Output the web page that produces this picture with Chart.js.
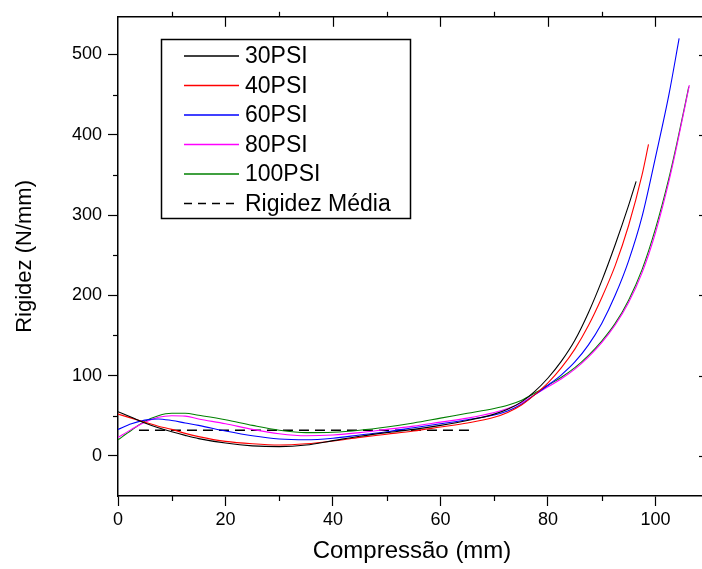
<!DOCTYPE html>
<html>
<head>
<meta charset="utf-8">
<script src="https://cdn.jsdelivr.net/npm/chart.js@4.4.0/dist/chart.umd.min.js"></script>
<style>
  html, body { margin: 0; padding: 0; background: #fff; overflow: hidden; }
  #wrap { width: 702px; height: 569px; overflow: hidden; }
</style>
</head>
<body>
<div id="wrap"><canvas id="chart" width="712" height="569"></canvas></div>
<script>
const FONT = "'Liberation Sans', Arial, sans-serif";

// Compressão (mm) / Rigidez (N/mm)
const x30 = [0, 2.5, 5, 7.5, 10, 12.5, 15, 20, 25, 30, 35, 40, 45, 50, 55, 60, 65, 70, 72.5, 75, 77.5, 80, 82.5, 85, 87.5, 90, 92.5, 95, 96.4];
const y30 = [55, 48, 41, 35, 30, 25.5, 21.5, 16, 12.5, 11.5, 13.5, 19, 24.5, 29, 33, 38, 44, 52, 58, 67, 80, 97, 118, 144, 178, 218, 263, 312, 342];

const x40 = [0, 2.5, 5, 7.5, 10, 12.5, 15, 20, 25, 30, 35, 40, 45, 50, 55, 60, 65, 70, 72.5, 75, 77.5, 80, 82.5, 85, 87.5, 90, 92.5, 95, 97.5, 98.7];
const y40 = [52, 47, 42, 37, 33, 28, 24, 18, 15, 13.5, 15, 18.5, 23, 27, 31, 36, 41, 48, 54, 63, 76, 91, 110, 133, 162, 197, 237, 287, 350, 388];

const x60 = [0, 2.5, 5, 7.5, 10, 12.5, 15, 20, 25, 30, 35, 40, 45, 50, 55, 60, 65, 70, 72.5, 75, 77.5, 80, 82.5, 85, 87.5, 90, 92.5, 95, 97.5, 100, 102.5, 104.4];
const y60 = [33, 40, 44.5, 46, 44, 41, 38, 31, 25, 21, 20, 22, 26, 30, 35, 40, 45, 51, 56, 64, 76, 88, 101, 117, 138, 165, 200, 243, 298, 372, 450, 520];

const x80 = [0, 2.5, 5, 7.5, 10, 12.5, 15, 20, 25, 30, 35, 40, 45, 50, 55, 60, 65, 70, 72.5, 75, 77.5, 80, 82.5, 85, 87.5, 90, 92.5, 95, 97.5, 100, 102.5, 104, 106.3];
const y80 = [23, 33, 42, 48, 50, 49.5, 46, 40, 33, 27.5, 25, 26, 29, 33, 37, 42, 47, 54, 59, 66, 76, 86, 96, 108, 123, 141, 163, 191, 228, 278, 342, 387, 462];

const x100 = [0, 2.5, 5, 7.5, 10, 12.5, 15, 20, 25, 30, 35, 40, 45, 50, 55, 60, 65, 70, 72.5, 75, 77.5, 80, 82.5, 85, 87.5, 90, 92.5, 95, 97.5, 100, 102.5, 104, 106.2];
const y100 = [20, 32, 43, 50, 53, 53, 50.5, 45, 38, 32, 29, 29.5, 32, 36, 41, 47, 53, 59, 63, 69, 78, 88, 98, 110, 125, 143, 165, 194, 232, 283, 346, 390, 460];

const xMedia = [3.9, 66.4];
const yMedia = [32, 32];

const labels = ["30PSI", "40PSI", "60PSI", "80PSI", "100PSI", "Rigidez Média"];
const colors = ["#000000", "#ff0000", "#0000ff", "#ff00ff", "#008000", "#000000"];

// axes
const xMin = 0, xMax = 109.4;
const yMin = -50, yMax = 547;
const xTicks = [0, 20, 40, 60, 80, 100];
const yTicks = [0, 100, 200, 300, 400, 500];

const toPoints = (xs, ys) => xs.map((v, i) => ({ x: v, y: ys[i] }));
const series = [[x30, y30], [x40, y40], [x60, y60], [x80, y80], [x100, y100], [xMedia, yMedia]];

const datasets = series.map((s, i) => ({
  label: labels[i],
  data: toPoints(s[0], s[1]),
  borderColor: colors[i],
  borderWidth: i == 5 ? 1.6 : 1.1,
  borderDash: i == 5 ? [10, 6] : [],
  cubicInterpolationMode: "monotone",
  pointRadius: 0,
  fill: false,
}));

// frame, minor ticks, top and right ticks
const framePlugin = {
  id: "frame",
  afterDraw(chart) {
    const ctx = chart.ctx;
    const xs = chart.scales.x, ys = chart.scales.y;
    const { left, right, top, bottom } = chart.chartArea;
    const seg = (x1, y1, x2, y2) => { ctx.beginPath(); ctx.moveTo(x1, y1); ctx.lineTo(x2, y2); ctx.stroke(); };
    ctx.save();
    ctx.strokeStyle = "#000";
    ctx.lineWidth = 1.5;
    seg(left, top, right, top);
    seg(right, top, right, bottom);
    ctx.lineWidth = 1.2;
    // minor ticks bottom / left
    for (let v = 10; v < xs.max; v += 20) {
      const p = Math.round(xs.getPixelForValue(v)) + 0.5;
      seg(p, bottom, p, bottom + 5);
    }
    for (let v = 50; v < ys.max; v += 100) {
      const p = Math.round(ys.getPixelForValue(v)) + 0.5;
      seg(left, p, left - 5, p);
    }
    // right side, inward at the major values
    yTicks.forEach((v) => {
      const p = Math.round(ys.getPixelForValue(v)) + 0.5;
      seg(right, p, right - 7, p);
    });
    // top side: majors point in, minors point out
    xTicks.forEach((v) => {
      const p = Math.round(xs.getPixelForValue(v)) + 0.5;
      if (v > 0) seg(p, top, p, top + 10);
      const m = Math.round(xs.getPixelForValue(v + 10)) + 0.5;
      if (v + 10 < xs.max) seg(m, top, m, top - 5);
    });
    ctx.restore();
  },
};

// legend box inside the plot
const legendPlugin = {
  id: "boxLegend",
  afterDraw(chart) {
    const ctx = chart.ctx;
    ctx.save();
    ctx.strokeStyle = "#000";
    ctx.lineWidth = 1.5;
    ctx.strokeRect(161.5, 39.5, 249, 179);
    ctx.font = "23px " + FONT;
    ctx.fillStyle = "#000";
    ctx.textBaseline = "middle";
    chart.data.datasets.forEach((d, i) => {
      const y = 56 + i * 29.5;
      ctx.beginPath();
      ctx.strokeStyle = d.borderColor;
      ctx.lineWidth = i == 5 ? 1.6 : 1.4;
      ctx.setLineDash(i == 5 ? [8, 6] : []);
      ctx.moveTo(184, y);
      ctx.lineTo(239, y);
      ctx.stroke();
      ctx.setLineDash([]);
      ctx.fillText(d.label, 245, y + 1);
    });
    ctx.restore();
  },
};

const axisCommon = {
  grid: { drawOnChartArea: false, color: "#000", tickLength: 10, tickWidth: 1.2 },
  border: { color: "#000", width: 1.5 },
};

new Chart(document.getElementById("chart"), {
  type: "line",
  data: { datasets: datasets },
  options: {
    responsive: false,
    animation: false,
    layout: { padding: { top: 15, right: 6, left: 0, bottom: 0 } },
    plugins: { legend: { display: false }, tooltip: { enabled: false } },
    scales: {
      x: {
        type: "linear",
        min: xMin,
        max: xMax,
        afterFit: (s) => { s.height = 73; },
        afterBuildTicks: (s) => { s.ticks = xTicks.map((v) => ({ value: v })); },
        ticks: { color: "#000", padding: 3, maxRotation: 0, font: { family: FONT, size: 18 } },
        title: { display: true, text: "Compressão (mm)", color: "#000", font: { family: FONT, size: 24 }, padding: { top: 0, bottom: 3 } },
        ...axisCommon,
      },
      y: {
        type: "linear",
        min: yMin,
        max: yMax,
        afterFit: (s) => { s.width = 118; },
        afterBuildTicks: (s) => { s.ticks = yTicks.map((v) => ({ value: v })); },
        ticks: { color: "#000", padding: 6, font: { family: FONT, size: 18 } },
        title: { display: true, text: "Rigidez (N/mm)", color: "#000", font: { family: FONT, size: 22 }, padding: { top: 12, bottom: 0 } },
        ...axisCommon,
      },
    },
  },
  plugins: [framePlugin, legendPlugin],
});
</script>
</body>
</html>
